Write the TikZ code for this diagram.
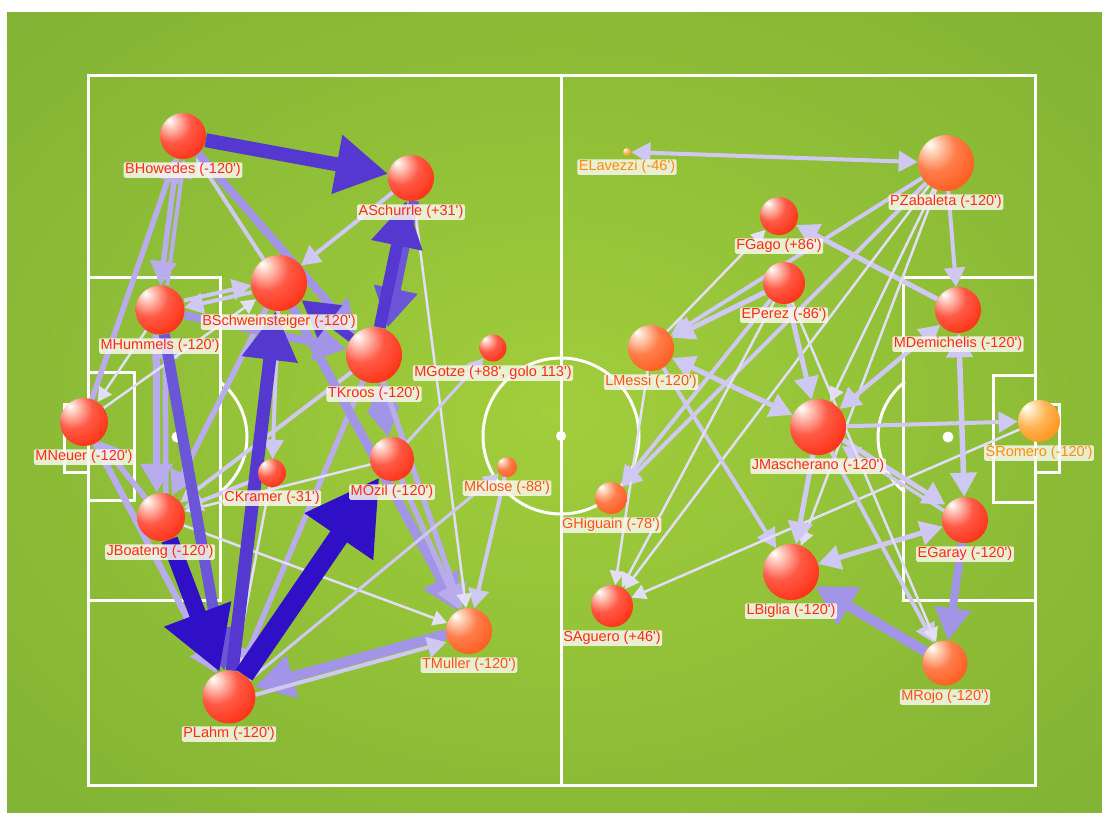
\documentclass[tikz,border=0pt]{standalone}
\usepackage{fontspec}
\setmainfont{Liberation Sans}
\usetikzlibrary{arrows.meta}
\definecolor{pin}{RGB}{162,206,60}
\definecolor{pmid}{RGB}{138,186,54}
\definecolor{pout}{RGB}{116,164,48}
\definecolor{hlr}{RGB}{255,215,205}\definecolor{midr}{RGB}{255,90,70}\definecolor{baser}{RGB}{255,40,10}\definecolor{edger}{RGB}{238,25,0}
\definecolor{hlo}{RGB}{255,222,200}\definecolor{mido}{RGB}{255,125,75}\definecolor{baseo}{RGB}{255,85,20}\definecolor{edgeo}{RGB}{242,70,10}
\definecolor{hly}{RGB}{255,238,205}\definecolor{midy}{RGB}{255,180,85}\definecolor{basey}{RGB}{255,140,15}\definecolor{edgey}{RGB}{242,125,5}
\definecolor{c1}{RGB}{226,222,248}
\definecolor{c2}{RGB}{206,200,243}
\definecolor{c3}{RGB}{184,172,236}
\definecolor{c4}{RGB}{162,148,230}
\definecolor{c5}{RGB}{108,86,216}
\definecolor{c6}{RGB}{84,56,208}
\definecolor{c7}{RGB}{48,16,198}
\definecolor{tred}{RGB}{255,42,22}
\definecolor{tora}{RGB}{255,82,20}
\definecolor{tyel}{RGB}{255,140,10}
\definecolor{labfill}{RGB}{248,248,238}
\pgfdeclareradialshading{pitch}{\pgfpoint{0bp}{0bp}}{color(0bp)=(pin); color(25bp)=(pmid); color(55bp)=(pout); color(80bp)=(pout)}
\pgfdeclareradialshading{redball}{\pgfpoint{-15bp}{17bp}}{color(0bp)=(white); color(5bp)=(hlr); color(20bp)=(midr); color(42bp)=(baser); color(85bp)=(edger)}
\pgfdeclareradialshading{oraball}{\pgfpoint{-15bp}{17bp}}{color(0bp)=(white); color(5bp)=(hlo); color(20bp)=(mido); color(42bp)=(baseo); color(85bp)=(edgeo)}
\pgfdeclareradialshading{yelball}{\pgfpoint{-15bp}{17bp}}{color(0bp)=(white); color(5bp)=(hly); color(20bp)=(midy); color(42bp)=(basey); color(85bp)=(edgey)}
\pgfdeclarelayer{bg}
\pgfdeclarelayer{edges}
\pgfsetlayers{bg,edges,main}
\newcommand{\ap}{\textquotesingle}
\tikzset{
  fieldline/.style={draw=white, line width=3pt},
  ball/.style={circle, inner sep=0pt, draw=none, shade, shading=redball, minimum size=#1},
  oball/.style={ball=#1, shading=oraball},
  yball/.style={ball=#1, shading=yelball},
  lab/.style={fill=labfill, fill opacity=0.85, text opacity=1, rounded corners=1.5pt,
    inner xsep=1.5pt, inner ysep=1pt, text height=10.5pt, text depth=3pt,
    font=\fontsize{14.5}{15}\selectfont, text=tred},
  olab/.style={lab, text=tora},
  ylab/.style={lab, text=tyel},
  pass/.style={-{Triangle[length=6pt 3.3,width=6pt 3.6]}},
  pass2/.style={{Triangle[length=6pt 3.3,width=6pt 3.6]}-{Triangle[length=6pt 3.3,width=6pt 3.6]}},
  t1/.style={line width=2.5pt, draw=c1},
  t2/.style={line width=4pt, draw=c2},
  t3/.style={line width=5.5pt, draw=c3},
  t4/.style={line width=8pt, draw=c4},
  t5/.style={line width=11pt, draw=c5},
  t6/.style={line width=13pt, draw=c6},
  t7/.style={line width=19pt, draw=c7},
}
\begin{document}
\begin{tikzpicture}[x=1pt,y=-1pt]
\useasboundingbox (0,0) rectangle (1102,812);
\begin{pgfonlayer}{bg}
\fill[white] (0,0) rectangle (1102,812);
\shade[shading=pitch] (7,12) rectangle (1102,812);
\draw[fieldline] (88,75) rectangle (1035,785);
\draw[fieldline] (561,75) -- (561,785);
\draw[fieldline] (561,436) circle[radius=78];
\fill[white] (561,436) circle[radius=5];
\draw[fieldline] (88,277) rectangle (220,600);
\draw[fieldline] (88,372) rectangle (134,500);
\draw[fieldline] (64,404) rectangle (88,472);
\fill[white] (177,437) circle[radius=5.5];
\draw[fieldline] (177,437) ++(-52:70) arc[start angle=-52, end angle=52, radius=70];
\draw[fieldline] (903,277) rectangle (1035,600);
\draw[fieldline] (993,375) rectangle (1035,502);
\draw[fieldline] (1035,404) rectangle (1059,472);
\fill[white] (948,437) circle[radius=5.5];
\draw[fieldline] (948,437) ++(128:70) arc[start angle=128, end angle=232, radius=70];
\end{pgfonlayer}
% Germany
\node[ball=46pt] (how) at (183,136) {};
\node[ball=46pt] (sch) at (411,178) {};
\node[ball=56pt] (bsw) at (279,283) {};
\node[ball=49pt] (hum) at (160,310) {};
\node[ball=56pt] (kro) at (374,355) {};
\node[ball=27pt] (got) at (493,348) {};
\node[ball=48pt] (neu) at (84,422) {};
\node[ball=28pt] (ckr) at (272,473) {};
\node[ball=44pt] (ozi) at (392,459) {};
\node[oball=20pt] (klo) at (507,467) {};
\node[ball=48pt] (boa) at (161,517) {};
\node[oball=46pt] (mul) at (469,631) {};
\node[ball=53pt] (pla) at (229,697) {};
% Argentina
\node[yball=8pt] (lav) at (627,152) {};
\node[oball=56pt] (zab) at (946,163) {};
\node[ball=38pt] (gag) at (779,216) {};
\node[ball=42pt] (epe) at (784,283) {};
\node[ball=46pt] (dem) at (958,310) {};
\node[oball=46pt] (mes) at (651,348) {};
\node[ball=56pt] (mas) at (818,427) {};
\node[yball=42pt] (rom) at (1039,421) {};
\node[oball=32pt] (hig) at (611,498) {};
\node[ball=42pt] (agu) at (612,606) {};
\node[ball=46pt] (gar) at (965,520) {};
\node[ball=56pt] (big) at (791,572) {};
\node[oball=45pt] (roj) at (945,663) {};
% labels
\node[lab] (howl) at (183,170) {BHowedes (-120\ap)};
\node[lab] (schl) at (411,212) {ASchurrle (+31\ap)};
\node[lab] (bswl) at (279,322) {BSchweinsteiger (-120\ap)};
\node[lab] (huml) at (160,346) {MHummels (-120\ap)};
\node[lab] (krol) at (374,394) {TKroos (-120\ap)};
\node[lab] (gotl) at (493,373) {MGotze (+88\ap, golo 113\ap)};
\node[lab] (neul) at (84,457) {MNeuer (-120\ap)};
\node[lab] (ckrl) at (272,498) {CKramer (-31\ap)};
\node[lab] (ozil) at (392,492) {MOzil (-120\ap)};
\node[olab] (klol) at (507,488) {MKlose (-88\ap)};
\node[lab] (boal) at (160,552) {JBoateng (-120\ap)};
\node[olab] (mull) at (469,665) {TMuller (-120\ap)};
\node[lab] (plal) at (229,734) {PLahm (-120\ap)};
\node[ylab] (lavl) at (627,167) {ELavezzi (-46\ap)};
\node[lab] (zabl) at (946,202) {PZabaleta (-120\ap)};
\node[lab] (gagl) at (779,246) {FGago (+86\ap)};
\node[lab] (epel) at (784,315) {EPerez (-86\ap)};
\node[lab] (deml) at (958,344) {MDemichelis (-120\ap)};
\node[olab] (mesl) at (651,382) {LMessi (-120\ap)};
\node[lab] (masl) at (818,466) {JMascherano (-120\ap)};
\node[ylab] (roml) at (1039,453) {SRomero (-120\ap)};
\node[olab] (higl) at (611,525) {GHiguain (-78\ap)};
\node[lab] (agul) at (612,638) {SAguero (+46\ap)};
\node[lab] (garl) at (965,554) {EGaray (-120\ap)};
\node[lab] (bigl) at (791,611) {LBiglia (-120\ap)};
\node[olab] (rojl) at (945,697) {MRojo (-120\ap)};
\begin{pgfonlayer}{edges}
% Germany passes
\draw[pass,t3] (neu) -- (how);
\draw[pass,t3,transform canvas={xshift=-3pt}] (how) -- (hum);
\draw[pass,t3,line width=4pt,transform canvas={xshift=4pt}] (hum) -- (how);
\draw[pass,t2] (bsw) -- (how);
\draw[pass,t2] (sch) -- (bsw);
\draw[pass,t2,transform canvas={yshift=-3pt}] (bsw) -- (hum);
\draw[pass,t2,transform canvas={yshift=4pt}] (hum) -- (bsw);
\draw[pass,t2] (bsw) -- (ckr);
\draw[pass,t3] (bsw) -- (boa);
\draw[pass,t3] (boa) -- (neu);
\draw[pass,t3,line width=6.5pt] (neu) -- (pla);
\draw[pass,t3,line width=7pt,transform canvas={xshift=-4pt}] (hum) -- (boa);
\draw[pass,t3,transform canvas={xshift=5pt}] (boa) -- (hum);
\draw[pass,t3] (kro) -- (pla);
\draw[pass,t2] (kro) -- (boa);
\draw[pass,t4] (how) -- (kro);
\draw[pass,t4] (hum) -- (kro);
\draw[pass,t4,line width=9pt] (bsw) -- (mul);
\draw[pass2,t4,line width=7pt] (ozi) -- (kro);
\draw[pass,t3] (kro) -- (mul);
\draw[pass,t3] (ozi) -- (mul);
\draw[pass,t2] (klo) -- (mul);
\draw[pass,t1] (sch) -- (mul);
\draw[pass,t1] (boa) -- (mul);
\draw[pass,t1] (ozi) -- (boa);
\draw[pass,t2] (ckr) -- (boa);
\draw[pass,t1] (ckr) -- (pla);
\draw[pass,t1] (neu) -- (bsw);
\draw[pass,t1] (hum) -- (neu);
\draw[pass,t2,line width=3pt] (ozi) -- (got);
\draw[pass,t2,line width=3pt] (pla) -- (klo);
\draw[pass,t4,line width=10pt,transform canvas={yshift=3pt}] (mul) -- (pla);
\draw[pass,t2,transform canvas={yshift=-5pt}] (pla) -- (mul);
\draw[pass,t5] (hum) -- (pla);
\draw[pass,t5,line width=10pt,transform canvas={xshift=8pt}] (sch) -- (kro);
\draw[pass,t6,line width=12pt] (kro) -- (sch);
\draw[pass,t6,line width=9pt] (kro) -- (bsw);
\draw[pass,t6] (pla) -- (bsw);
\draw[pass,t6,line width=14pt] (how) -- (sch);
\draw[pass,t7,line width=17pt] (boa) -- (pla);
\draw[pass,t7,line width=20pt] (pla) -- (ozi);
% Argentina passes
\draw[pass2,t2] (lav) -- (zab);
\draw[pass,t2] (zab) -- (mes);
\draw[pass,t2,line width=5pt] (dem) -- (gag);
\draw[pass,t2] (zab) -- (dem);
\draw[pass,t2] (zab) -- (hig);
\draw[pass,t1] (zab) -- (agu);
\draw[pass,t1] (zab) -- (mas);
\draw[pass,t1] (zab) -- (big);
\draw[pass,t2,line width=5pt] (epe) -- (mes);
\draw[pass,t2,line width=5pt] (epe) -- (mas);
\draw[pass,t1] (mes) -- (gag);
\draw[pass2,t2,line width=5pt] (mes) -- (mas);
\draw[pass,t2] (mes) -- (big);
\draw[pass,t1] (mes) -- (agu);
\draw[pass,t2] (epe) -- (hig);
\draw[pass,t1] (epe) -- (agu);
\draw[pass,t1] (rom) -- (agu);
\draw[pass,t2] (mas) -- (rom);
\draw[pass,t2,line width=5pt,transform canvas={yshift=3pt}] (mas) -- (gar);
\draw[pass,t2,line width=3.5pt,transform canvas={yshift=-4pt}] (gar) -- (mas);
\draw[pass2,t2,line width=5.5pt] (dem) -- (gar);
\draw[pass2,t2,line width=4.5pt] (dem) -- (mas);
\draw[pass2,t2,line width=5pt] (gar) -- (big);
\draw[pass,t2,line width=5pt] (mas) -- (big);
\draw[pass,t2] (mas) -- (roj);
\draw[pass,t1] (epe) -- (roj);
\draw[pass,t4,line width=8pt] (gar) -- (roj);
\draw[pass,t4,line width=10pt] (roj) -- (big);
\end{pgfonlayer}
\end{tikzpicture}
\end{document}
